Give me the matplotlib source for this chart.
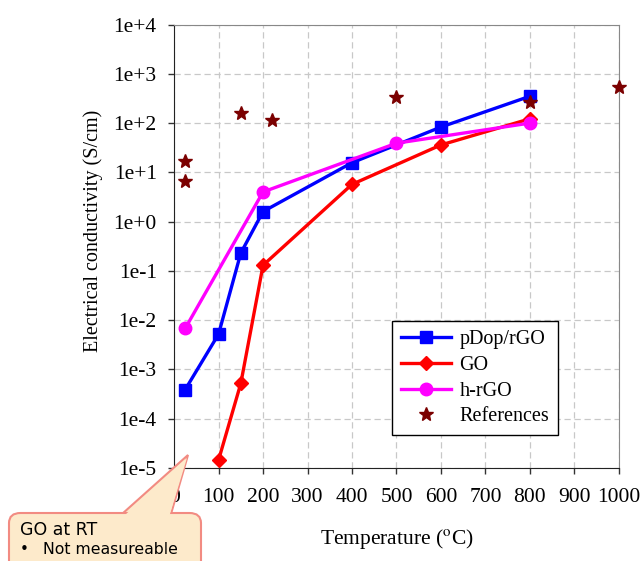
import numpy as np
import matplotlib

matplotlib.use('Agg')

from matplotlib import rcParams

rcParams['font.family'] = 'Liberation Serif'
rcParams['mathtext.fontset'] = 'stix'

import matplotlib.pyplot as plt
from matplotlib.patches import FancyBboxPatch, Polygon
from matplotlib.ticker import FixedLocator, FuncFormatter

# measured data
temp_pdop = [25, 100, 150, 200, 400, 600, 800]
sigma_pdop = [3.9e-4, 5.2e-3, 0.23, 1.6, 15.7, 83, 350]

temp_go = [100, 150, 200, 400, 600, 800]
sigma_go = [1.45e-5, 5.2e-4, 0.13, 5.7, 36, 122]

temp_hrgo = [25, 200, 500, 800]
sigma_hrgo = [6.8e-3, 4.0, 39, 100]

# literature values
temp_ref = [25, 25, 150, 220, 500, 800, 1000]
sigma_ref = [16.6, 6.6, 158, 116, 334, 265, 550]

xticks = list(range(0, 1001, 100))
yexp = [-5, -4, -3, -2, -1, 0, 1, 2, 3, 4]


def fmt(v, pos):
    e = int(round(np.log10(v)))
    return '1e+%d' % e if e >= 0 else '1e%d' % e


fig = plt.figure(figsize=(6.4, 5.61), dpi=100)
ax = fig.add_axes([0.272, 0.1658, 0.695, 0.7905])

ax.plot(temp_pdop, sigma_pdop, color='#0000FF', lw=2.4, marker='s', ms=8, label='pDop/rGO', zorder=4)
ax.plot(temp_go, sigma_go, color='#FF0000', lw=2.4, marker='D', ms=7.5, label='GO', zorder=4)
ax.plot(temp_hrgo, sigma_hrgo, color='#FF00FF', lw=2.4, marker='o', ms=9, label='h-rGO', zorder=5)
ax.plot(temp_ref, sigma_ref, ls='none', color='#7B0000', marker='*', ms=10, label='References', zorder=6,
        clip_on=False)

ax.set_yscale('log')
ax.set_xlim(0, 1000)
ax.set_ylim(1e-5, 1e4)
ax.xaxis.set_major_locator(FixedLocator(xticks))
ax.yaxis.set_major_locator(FixedLocator([10.0 ** e for e in yexp]))
ax.yaxis.set_minor_locator(FixedLocator([]))
ax.yaxis.set_major_formatter(FuncFormatter(fmt))
ax.tick_params(axis='both', direction='out', length=4.5, width=1, labelsize=15.5, colors='#333333',
               labelcolor='black')
ax.tick_params(axis='x', pad=10)
ax.tick_params(axis='y', pad=8)
ax.grid(True, ls=(0, (5, 3)), color='#C8C8C8', lw=0.9)
ax.set_axisbelow(True)
for s in ['left', 'bottom']:
    ax.spines[s].set_color('#222222')
for s in ['top', 'right']:
    ax.spines[s].set_color('#888888')

ax.set_xlabel('Temperature ($^{\\mathrm{o}}$C)', fontsize=15.5)
ax.set_ylabel('Electrical conductivity (S/cm)', fontsize=14.5)
ax.xaxis.set_label_coords(0.5, -0.132)
ax.yaxis.set_label_coords(-0.16, 0.535)

leg = ax.legend(loc='lower left', bbox_to_anchor=(0.49, 0.074), fontsize=14.5, frameon=True, fancybox=False,
                edgecolor='black', framealpha=1, handlelength=2.5, borderpad=0.45, labelspacing=0.32,
                handletextpad=0.4, borderaxespad=0)
leg.get_frame().set_linewidth(1.0)

# callout box
W, H = 640.0, 561.0
ptr = [(122 / W, 1 - 514 / H), (188 / W, 1 - 455 / H), (171 / W, 1 - 514 / H)]
fig.patches.append(Polygon(ptr, closed=True, transform=fig.transFigure, facecolor='#FDEACB',
                           edgecolor='#F28B82', lw=1.5, zorder=10))
fig.patches.append(FancyBboxPatch((9 / W, -20 / H), 192 / W, (20 + 48) / H,
                                  boxstyle='round,pad=0,rounding_size=0.018', transform=fig.transFigure,
                                  facecolor='#FDEACB', edgecolor='#F28B82', lw=1.5, zorder=11))
fig.patches.append(Polygon([(124.5 / W, 1 - 515.5 / H), (187 / W, 1 - 458 / H), (169.5 / W, 1 - 515.5 / H)],
                           closed=True, transform=fig.transFigure, facecolor='#FDEACB', edgecolor='none',
                           zorder=12))
fig.text(20 / W, 1 - 530 / H, 'GO at RT', fontsize=12.5, family='DejaVu Sans', va='center', zorder=13)
fig.text(20 / W, 1 - 550 / H, '\u2022', fontsize=11, family='DejaVu Sans', va='center', zorder=13)
fig.text(43 / W, 1 - 550 / H, 'Not measureable', fontsize=11.3, family='DejaVu Sans', va='center', zorder=13)

plt.savefig('out.png', dpi=100)
